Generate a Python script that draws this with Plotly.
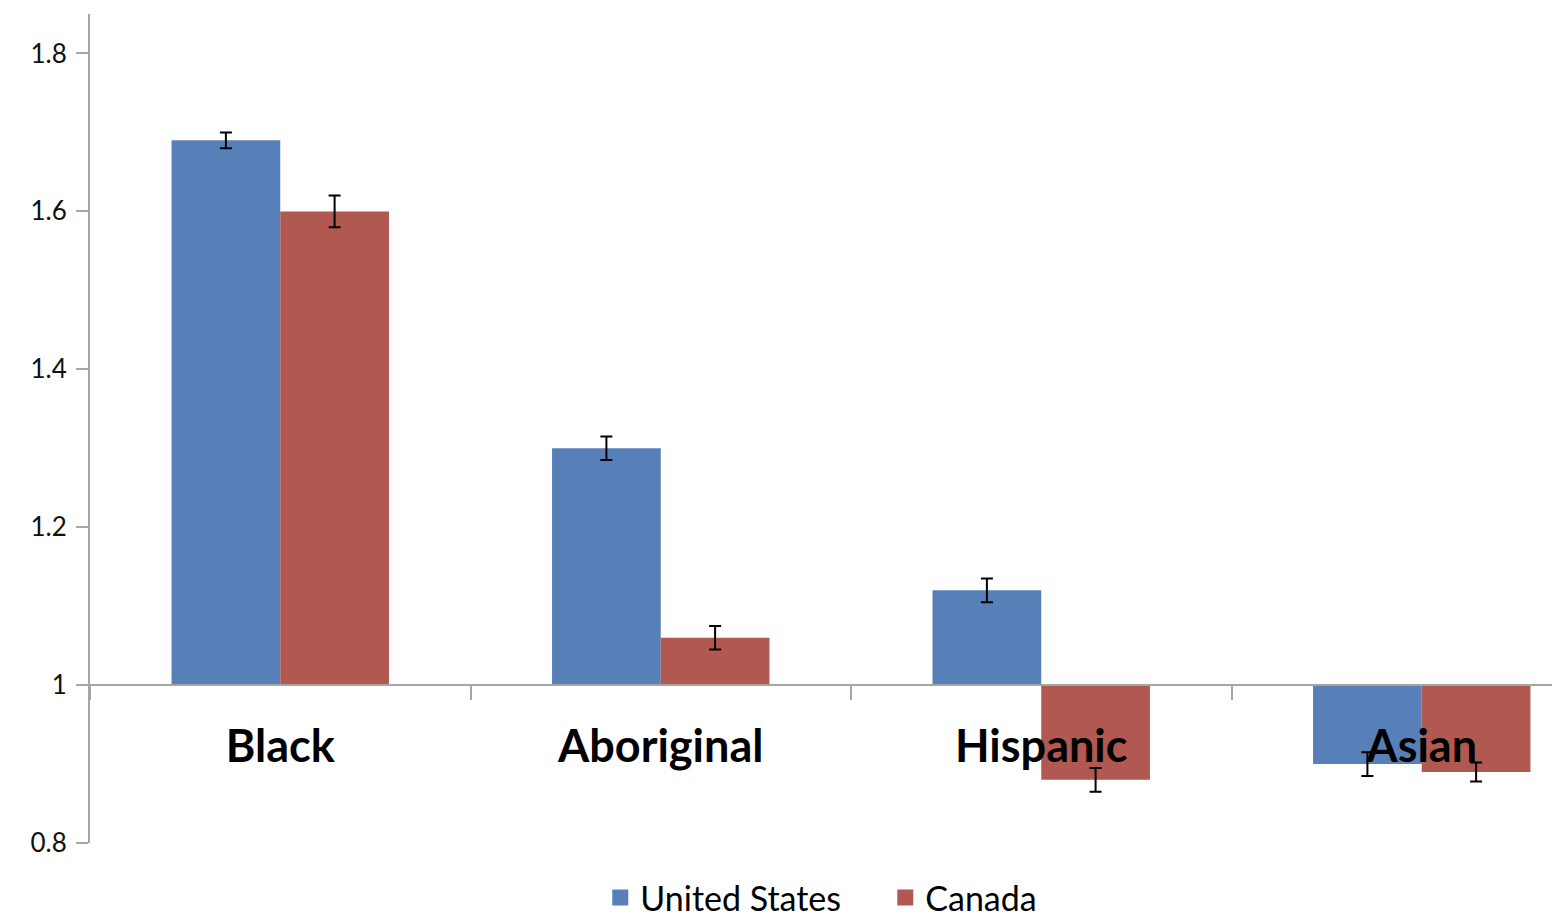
import plotly.graph_objects as go

# Ratios (bars start at 1)
categories = ['Black', 'Aboriginal', 'Hispanic', 'Asian']
us_values = [1.69, 1.30, 1.12, 0.90]
us_errors = [0.01, 0.015, 0.015, 0.015]
ca_values = [1.60, 1.06, 0.88, 0.89]
ca_errors = [0.02, 0.015, 0.015, 0.012]
y_ticks = [0.8, 1.0, 1.2, 1.4, 1.6, 1.8]
y_tick_labels = ['0.8', '1', '1.2', '1.4', '1.6', '1.8']

blue = '#5880B8'
red = '#B15850'

fig = go.Figure()
fig.add_trace(go.Bar(
    x=categories, y=[v - 1 for v in us_values], base=1,
    name='United States', marker=dict(color=blue, line=dict(width=0)),
    error_y=dict(type='data', array=us_errors, color='black', thickness=2, width=6),
    showlegend=False,
))
fig.add_trace(go.Bar(
    x=categories, y=[v - 1 for v in ca_values], base=1,
    name='Canada', marker=dict(color=red, line=dict(width=0)),
    error_y=dict(type='data', array=ca_errors, color='black', thickness=2, width=6),
    showlegend=False,
))

# legend-only entries with bigger square swatches
for name, color in [('United States', blue), ('Canada', red)]:
    fig.add_trace(go.Scatter(
        x=[None], y=[None], mode='markers', name=name,
        marker=dict(symbol='square', size=22, color=color),
    ))

# page body has an 8px margin, so the figure is 8px smaller and margins shifted
plot_w = 1552 - 82
plot_h = 913 - 6 - 78
y_min, y_max = 0.8, 1.85
# the original chart runs past the right edge: ~380px per category
x_span = plot_w / 380.5
fig.update_layout(
    width=1552, height=913,
    margin=dict(l=82, r=0, t=6, b=78, autoexpand=False),
    plot_bgcolor='white', paper_bgcolor='white',
    barmode='group', bargap=0.4286, bargroupgap=0,
    font=dict(family='Lato', color='black'),
    showlegend=True,
    legend=dict(orientation='h', x=0.541, xanchor='center', y=-55 / plot_h, yanchor='middle',
                font=dict(size=34, color='black'), itemsizing='trace',
                itemwidth=30, entrywidth=240, entrywidthmode='pixels'),
    xaxis=dict(
        range=[-0.5, -0.5 + x_span],
        anchor='free', position=(1 - y_min) / (y_max - y_min),
        showline=True, linecolor='#A6A6A6', linewidth=2,
        ticks='outside', tickson='boundaries', ticklen=14, tickcolor='#A6A6A6', tickwidth=2,
        tickfont=dict(size=45, family='Lato', weight='bold', color='black'),
        ticklabelstandoff=22, automargin=False,
        showgrid=False, zeroline=False,
    ),
    yaxis=dict(
        range=[y_min, y_max], tickvals=y_ticks, ticktext=y_tick_labels,
        showline=True, linecolor='#A6A6A6', linewidth=2,
        ticks='outside', ticklen=12, tickcolor='#A6A6A6', tickwidth=2,
        tickfont=dict(size=26, color='#111111'), ticklabelstandoff=4,
        automargin=False,
        showgrid=False, zeroline=False,
    ),
)

fig.write_html('out.html')
